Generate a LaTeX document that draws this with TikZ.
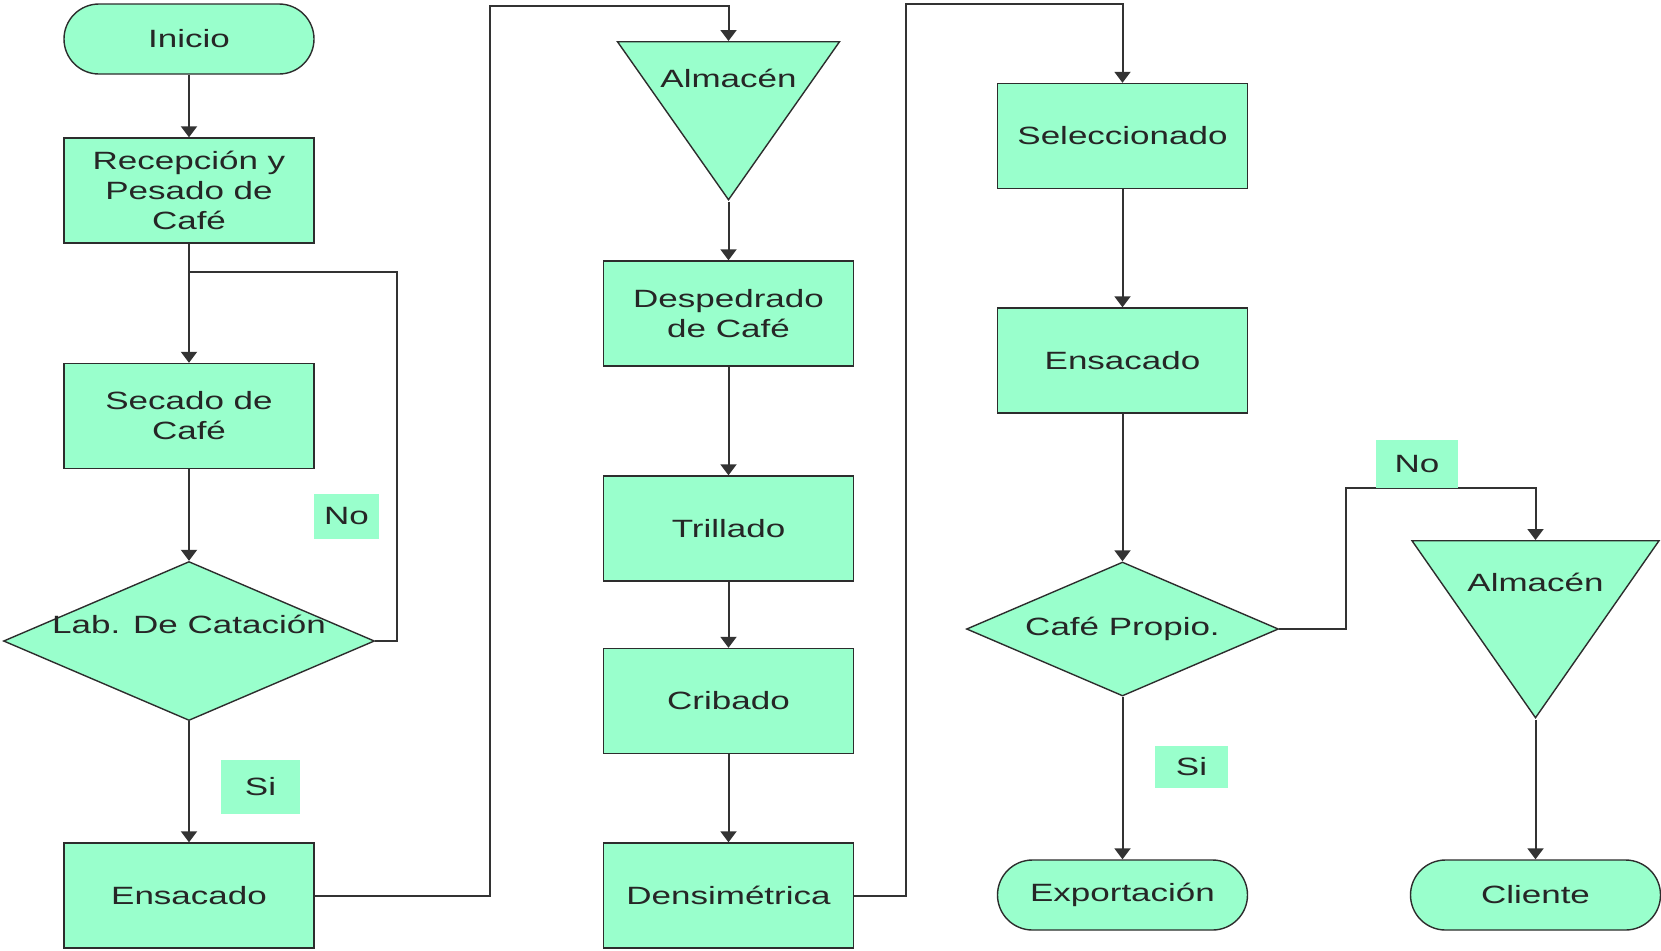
\documentclass[tikz,border=0pt]{standalone}
\usepackage{fontspec}
\setmainfont{Liberation Sans}[FakeStretch=1.4]
\usetikzlibrary{shapes.geometric, arrows.meta}
\definecolor{menta}{RGB}{153,255,204}
\definecolor{trazo}{RGB}{45,45,45}
\tikzset{
	caja/.style={draw=trazo, fill=menta, line width=0.7pt, minimum width=125pt, minimum height=52.5pt, align=center, inner sep=2pt, text=black!85},
	terminal/.style={minimum height=35pt, rounded corners=17.5pt},
	decision/.style={diamond, draw=trazo, fill=menta, line width=0.7pt, inner sep=0pt, text=black!85},
	almacen/.style={isosceles triangle, isosceles triangle stretches, shape border rotate=-90, draw=trazo, fill=menta, line width=0.7pt, inner sep=0pt, anchor=north, text=black!85},
	etiqueta/.style={fill=menta, inner sep=0pt, text=black!85},
	flecha/.style={-{Triangle[length=5.5pt,width=8pt]}},
}
\newcommand{\caja}[5][]{
	\path (#2,#3) node[caja, #1](#4){#5};
}
\newcommand{\conecta}[3][flecha]{
	\draw[#1] (#2) -- (#3);
}

\begin{document}
\begin{tikzpicture}[x=0.5pt, y=-0.5pt, font=\fontsize{12.5pt}{15pt}\selectfont, line width=1pt, draw=black!80]
	\useasboundingbox (0,0) rectangle (1661,950);

	% primera columna
	\caja[terminal]{189}{39}{inicio}{Inicio};
	\caja{189}{190.5}{recep}{Recepción y\\Pesado de\\Café};
	\caja{189}{416}{secado}{Secado de\\Café};
	\path (189,641) node[decision, minimum width=185.5pt, minimum height=79.5pt, label={[text=black!85, yshift=8.5pt]center:Lab. De Catación}](cat){};
	\caja{189}{895.5}{ens1}{Ensacado};

	% segunda columna
	\path (728.5,41) node[almacen, minimum width=111pt, minimum height=79pt, label={[text=black!85, anchor=center, yshift=-18.5pt]north:Almacén}](alm1){};
	\caja{728.5}{313.5}{desp}{Despedrado\\de Café};
	\caja{728.5}{528.5}{trill}{Trillado};
	\caja{728.5}{701}{crib}{Cribado};
	\caja{728.5}{895.5}{dens}{Densimétrica};

	% tercera y cuarta columna
	\caja{1122.5}{136}{selec}{Seleccionado};
	\caja{1122.5}{360.5}{ens2}{Ensacado};
	\path (1122.5,629) node[decision, minimum width=156pt, minimum height=67pt, label={[text=black!85]center:Café Propio.}](cafe){};
	\caja[terminal]{1122.5}{895}{export}{Exportación};
	\path (1535.5,540) node[almacen, minimum width=123.5pt, minimum height=88.5pt, label={[text=black!85, anchor=center, yshift=-21pt]north:Almacén}](alm2){};
	\caja[terminal]{1535.5}{895}{cliente}{Cliente};

	% puntos de quiebre
	\coordinate (union) at (189,272);
	\coordinate (retorno) at (397,272);
	\coordinate (subida1) at (490,6);
	\coordinate (subida2) at (906,4);
	\coordinate (desvio) at (1346,488);

	\conecta{inicio}{recep};
	\conecta{recep.south}{secado.north};
	\conecta{secado}{cat};
	\conecta{cat}{ens1};
	\draw (cat.east) -| (retorno) -- (union);
	\draw[flecha] (ens1.east) -| (subida1) -| (alm1.north);
	\conecta{alm1.south}{desp.north};
	\conecta{desp}{trill};
	\conecta{trill}{crib};
	\conecta{crib}{dens};
	\draw[flecha] (dens.east) -| (subida2) -| (selec.north);
	\conecta{selec}{ens2};
	\conecta{ens2}{cafe};
	\conecta{cafe}{export};
	\draw[flecha] (cafe.east) -| (desvio) -| (alm2.north);
	\conecta{alm2.south}{cliente.north};

	% etiquetas
	\path (346.5,516.5) node[etiqueta, minimum width=32.5pt, minimum height=22.5pt](no1){No};
	\path (260.5,787) node[etiqueta, minimum width=39.5pt, minimum height=27pt](si1){Si};
	\path (1417,464) node[etiqueta, minimum width=41pt, minimum height=24pt](no2){No};
	\path (1191.5,767) node[etiqueta, minimum width=36.5pt, minimum height=21pt](si2){Si};
\end{tikzpicture}
\end{document}
